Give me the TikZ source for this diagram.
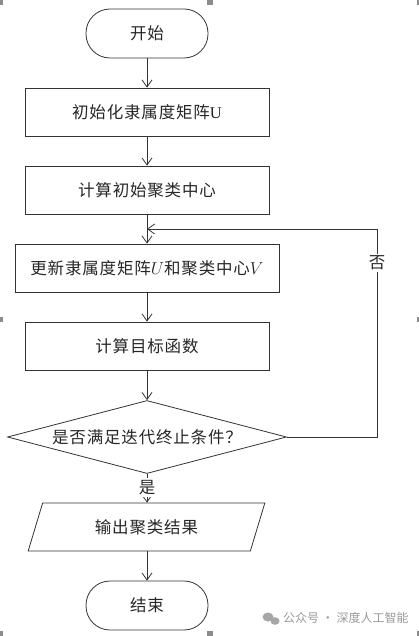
\documentclass[tikz,border=0pt]{standalone}
\usepackage{fontspec}
\setmainfont{Liberation Serif}
\newfontfamily\cjk[LetterSpace=5]{Noto Sans CJK SC}
\newfontfamily\cjkwm{Noto Sans CJK SC}
\usetikzlibrary{shapes.geometric,arrows.meta}
\begin{document}
\begin{tikzpicture}[x=1pt,y=-1pt,
  every node/.style={font=\cjk\fontsize{16.5}{18}\selectfont, text=black!85},
  proc/.style={draw=black!80, line width=0.8pt, minimum height=48pt, inner sep=0pt},
  term/.style={draw=black!80, line width=0.8pt, rectangle, rounded corners=24pt, minimum width=122pt, minimum height=49pt, inner sep=0pt},
  decis/.style={draw=black!80, line width=0.8pt, diamond, aspect=3.8, minimum width=279pt, minimum height=73pt, inner sep=0pt},
  iobox/.style={draw=black!80, line width=0.8pt, trapezium, trapezium left angle=65, trapezium right angle=115, trapezium stretches=true, minimum width=237pt, minimum height=48pt, inner sep=0pt},
  arr/.style={draw=black!80, line width=0.8pt, -{Straight Barb[length=7pt,width=10pt,line width=0.8pt]}},
  lab/.style={fill=white, inner sep=2pt},
  handle/.style={fill=black!45, draw=none},
  wm/.style={font=\cjkwm\fontsize{12}{14}\selectfont, text=black!40}
]
\useasboundingbox (0,0) rectangle (419,636);
% selection handles
\fill[handle] (0,0) rectangle (2.5,5);
\fill[handle] (207,0) rectangle (213,5);
\fill[handle] (416.5,0) rectangle (419,5);
\fill[handle] (0,317) rectangle (2.5,322);
\fill[handle] (416.5,317) rectangle (419,322);
\fill[handle] (0,631) rectangle (2.5,636);
\fill[handle] (207,631) rectangle (213,636);
\fill[handle] (416.5,631) rectangle (419,636);

\node[term] (start) at (147,33.5) {开始};
\node[proc, minimum width=244pt] (b1) at (147,112) {初始化隶属度矩阵{\rmfamily U}};
\node[proc, minimum width=244pt] (b2) at (147,190) {计算初始聚类中心};
\node[proc, minimum width=264pt] (b3) at (147,268) {更新隶属度矩阵$U$和聚类中心$V$};
\node[proc, minimum width=244pt] (b4) at (147,346) {计算目标函数};
\node[decis] (dia) at (147,437) {是否满足迭代终止条件？};
\node[iobox] (out) at (146.5,527) {输出聚类结果};
\node[term] (stop) at (147,605.5) {结束};

\coordinate (fb) at (377,229);
\coordinate (join) at (147,229);

\draw[arr] (start) -- (b1);
\draw[arr] (b1) -- (b2);
\draw[arr] (b2) -- (b3);
\draw[arr] (b3) -- (b4);
\draw[arr] (b4) -- (dia);
\draw[arr] (dia.south) -- node[lab, pos=0.47] {是} (dia.south |- out.north);
\draw[arr] (out.south -| stop.north) -- (stop);
\draw[arr] (dia.east) -| node[lab, pos=0.918] {否} (fb) -- (join);

% watermark
\node[wm, anchor=west, inner sep=0pt] (wmtext) at (283,618) {公众号 · 深度人工智能};
\fill[black!35] (268,617) ellipse (5.5pt and 4.5pt);
\fill[black!35] (275,621) ellipse (4.5pt and 3.8pt);
\end{tikzpicture}
\end{document}
